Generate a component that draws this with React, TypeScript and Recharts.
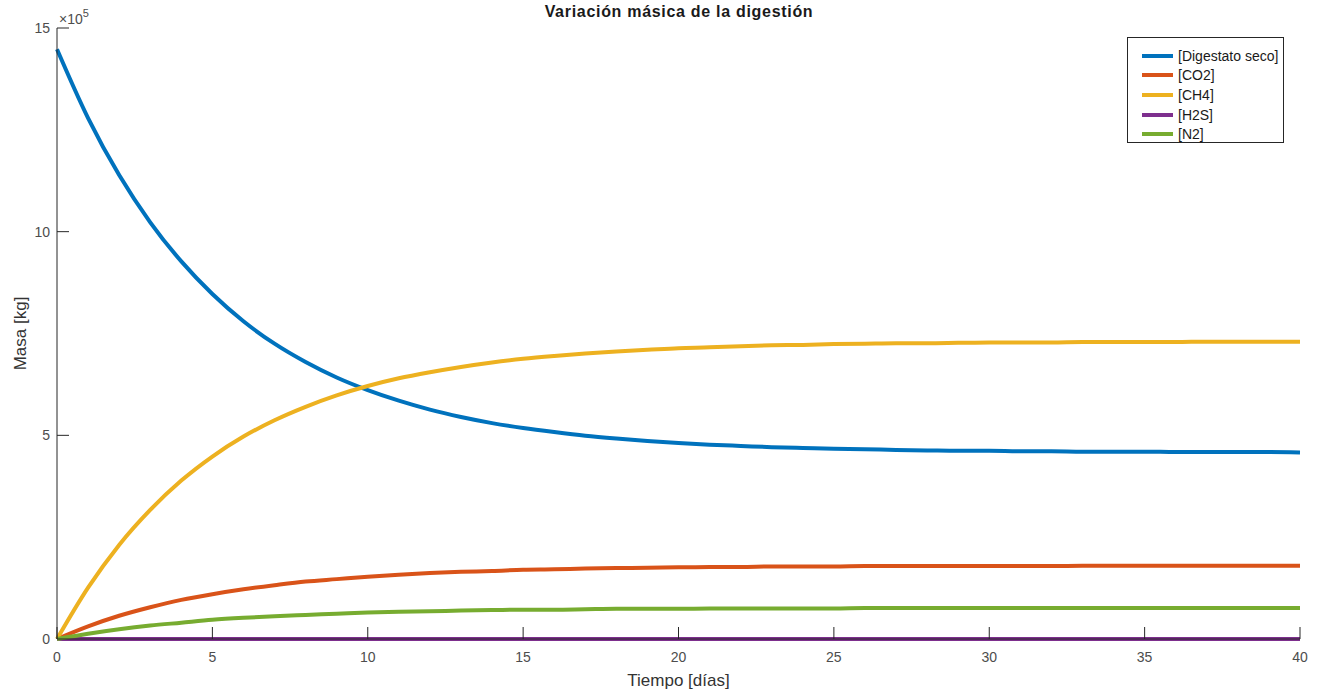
import { LineChart, Line, XAxis, YAxis } from "recharts";

// values in units of 1e5 kg, one per day
const days = [
  0, 1, 2, 3, 4, 5, 6, 7, 8, 9, 10, 11, 12, 13, 14, 15, 16, 17, 18, 19, 20,
  21, 22, 23, 24, 25, 26, 27, 28, 29, 30, 31, 32, 33, 34, 35, 36, 37, 38, 39, 40,
];

const digestato = [
  14.48, 12.79, 11.39, 10.23, 9.27, 8.47, 7.8, 7.25, 6.8, 6.42, 6.11, 5.85,
  5.63, 5.45, 5.3, 5.18, 5.08, 4.99, 4.92, 4.86, 4.81, 4.77, 4.74, 4.71, 4.69,
  4.67, 4.66, 4.64, 4.63, 4.62, 4.62, 4.61, 4.61, 4.6, 4.6, 4.6, 4.59, 4.59,
  4.59, 4.59, 4.58,
];

const co2 = [
  0, 0.31, 0.57, 0.78, 0.96, 1.1, 1.22, 1.32, 1.41, 1.47, 1.53, 1.58, 1.62,
  1.65, 1.67, 1.7, 1.71, 1.73, 1.74, 1.75, 1.76, 1.77, 1.77, 1.78, 1.78, 1.78,
  1.79, 1.79, 1.79, 1.79, 1.79, 1.79, 1.79, 1.8, 1.8, 1.8, 1.8, 1.8, 1.8, 1.8,
  1.8,
];

const ch4 = [
  0, 1.26, 2.31, 3.17, 3.89, 4.48, 4.97, 5.37, 5.7, 5.98, 6.21, 6.4, 6.55,
  6.68, 6.79, 6.88, 6.95, 7.01, 7.06, 7.1, 7.14, 7.16, 7.19, 7.21, 7.22, 7.24,
  7.25, 7.26, 7.26, 7.27, 7.28, 7.28, 7.28, 7.29, 7.29, 7.29, 7.29, 7.3, 7.3,
  7.3, 7.3,
];

const h2s = [
  0, 0.001, 0.001, 0.002, 0.002, 0.002, 0.002, 0.003, 0.003, 0.003, 0.003,
  0.003, 0.003, 0.003, 0.003, 0.003, 0.003, 0.003, 0.003, 0.003, 0.003, 0.003,
  0.003, 0.003, 0.003, 0.003, 0.003, 0.003, 0.003, 0.003, 0.003, 0.003, 0.003,
  0.003, 0.003, 0.003, 0.003, 0.003, 0.003, 0.003, 0.003,
];

const n2 = [
  0, 0.13, 0.24, 0.33, 0.4, 0.47, 0.52, 0.56, 0.59, 0.62, 0.65, 0.67, 0.68,
  0.7, 0.71, 0.72, 0.72, 0.73, 0.74, 0.74, 0.74, 0.75, 0.75, 0.75, 0.75, 0.75,
  0.76, 0.76, 0.76, 0.76, 0.76, 0.76, 0.76, 0.76, 0.76, 0.76, 0.76, 0.76, 0.76,
  0.76, 0.76,
];

const xTicks = [0, 5, 10, 15, 20, 25, 30, 35, 40];
const yTicks = [0, 5, 10, 15];

const series = [
  { key: "digestato", name: "[Digestato seco]", color: "#0072BD", values: digestato },
  { key: "co2", name: "[CO2]", color: "#D95319", values: co2 },
  { key: "ch4", name: "[CH4]", color: "#EDB120", values: ch4 },
  { key: "h2s", name: "[H2S]", color: "#7E2F8E", values: h2s },
  { key: "n2", name: "[N2]", color: "#77AC30", values: n2 },
];

const rows = days.map((d, i) => {
  const row: Record<string, number> = { day: d };
  series.forEach((s) => (row[s.key] = s.values[i]));
  return row;
});

const font = "Arial, 'Liberation Sans', Helvetica, sans-serif";
const axisColor = "#262626";
const X_MARGIN = 18;
const Y_MARGIN = 7;
const TICK_LEN = 12;

// matlab style ticks point into the plot
function XTick(props: any) {
  const { x, y, payload } = props;
  const base = y - X_MARGIN;
  return (
    <g>
      <line x1={x} x2={x} y1={base} y2={base - TICK_LEN} stroke={axisColor} />
      <text
        x={x}
        y={y}
        textAnchor="middle"
        dominantBaseline="central"
        style={{ fill: "#4d4d4d", fontSize: 14, fontFamily: font }}
      >
        {payload.value}
      </text>
    </g>
  );
}

function YTick(props: any) {
  const { x, y, payload } = props;
  const base = x + Y_MARGIN;
  return (
    <g>
      {payload.value !== 0 && (
        <line x1={base} x2={base + TICK_LEN} y1={y} y2={y} stroke={axisColor} />
      )}
      <text
        x={x}
        y={y}
        textAnchor="end"
        dominantBaseline="central"
        style={{ fill: "#4d4d4d", fontSize: 14, fontFamily: font }}
      >
        {payload.value}
      </text>
    </g>
  );
}

export default function App() {
  return (
    <div
      style={{
        position: "absolute",
        left: 0,
        top: 0,
        width: 1320,
        height: 692,
        background: "#fff",
        fontFamily: font,
      }}
    >
      <div
        style={{
          position: "absolute",
          top: 3,
          left: 0,
          width: 1358,
          textAlign: "center",
          fontSize: 16,
          letterSpacing: 0.7,
          fontWeight: "bold",
          color: "#1a1a1a",
        }}
      >
        Variación másica de la digestión
      </div>

      <LineChart
        width={1320}
        height={692}
        data={rows}
        margin={{ top: 28, right: 20, bottom: 0, left: 0 }}
      >
        <XAxis
          dataKey="day"
          type="number"
          domain={[0, 40]}
          ticks={xTicks}
          height={53}
          tick={<XTick />}
          tickSize={0}
          tickMargin={X_MARGIN}
          axisLine={{ stroke: axisColor }}
          tickLine={false}
          label={{
            value: "Tiempo [días]",
            position: "insideBottom",
            offset: 6,
            style: { fill: "#333", fontSize: 17, fontFamily: font },
          }}
        />
        <YAxis
          type="number"
          domain={[0, 15]}
          ticks={yTicks}
          width={57}
          tick={<YTick />}
          tickSize={0}
          tickMargin={Y_MARGIN}
          axisLine={{ stroke: axisColor }}
          tickLine={false}
          label={{
            content: (props: any) => {
              const vb = props.viewBox || {};
              const cy = (vb.y ?? 28) + (vb.height ?? 611) / 2;
              const right = (vb.x ?? 0) + (vb.width ?? 57);
              return (
                <g>
                  <text
                    x={20}
                    y={cy}
                    transform={`rotate(-90, 20, ${cy})`}
                    textAnchor="middle"
                    dominantBaseline="central"
                    style={{ fill: "#333", fontSize: 17, fontFamily: font }}
                  >
                    Masa [kg]
                  </text>
                  <text
                    x={right + 2}
                    y={24}
                    style={{ fill: "#4d4d4d", fontSize: 14, fontFamily: font }}
                  >
                    ×10
                    <tspan dy={-7} fontSize={11}>
                      5
                    </tspan>
                  </text>
                </g>
              );
            },
          }}
        />
        {series.map((s) => (
          <Line
            key={s.key}
            dataKey={s.key}
            name={s.name}
            stroke={s.color}
            strokeWidth={4}
            dot={false}
            activeDot={false}
            type="monotone"
            isAnimationActive={false}
          />
        ))}
      </LineChart>

      <div
        style={{
          position: "absolute",
          left: 1127,
          top: 37,
          width: 157,
          height: 106,
          border: "1px solid #262626",
          background: "#fff",
          boxSizing: "border-box",
          paddingTop: 8,
        }}
      >
        {series.map((s) => (
          <div
            key={s.key}
            style={{ display: "flex", alignItems: "center", height: 19.6 }}
          >
            <span
              style={{
                display: "inline-block",
                marginLeft: 14,
                width: 31,
                height: 4,
                background: s.color,
              }}
            />
            <span
              style={{
                marginLeft: 5,
                fontSize: 14,
                color: "#1a1a1a",
                whiteSpace: "nowrap",
              }}
            >
              {s.name}
            </span>
          </div>
        ))}
      </div>
    </div>
  );
}
